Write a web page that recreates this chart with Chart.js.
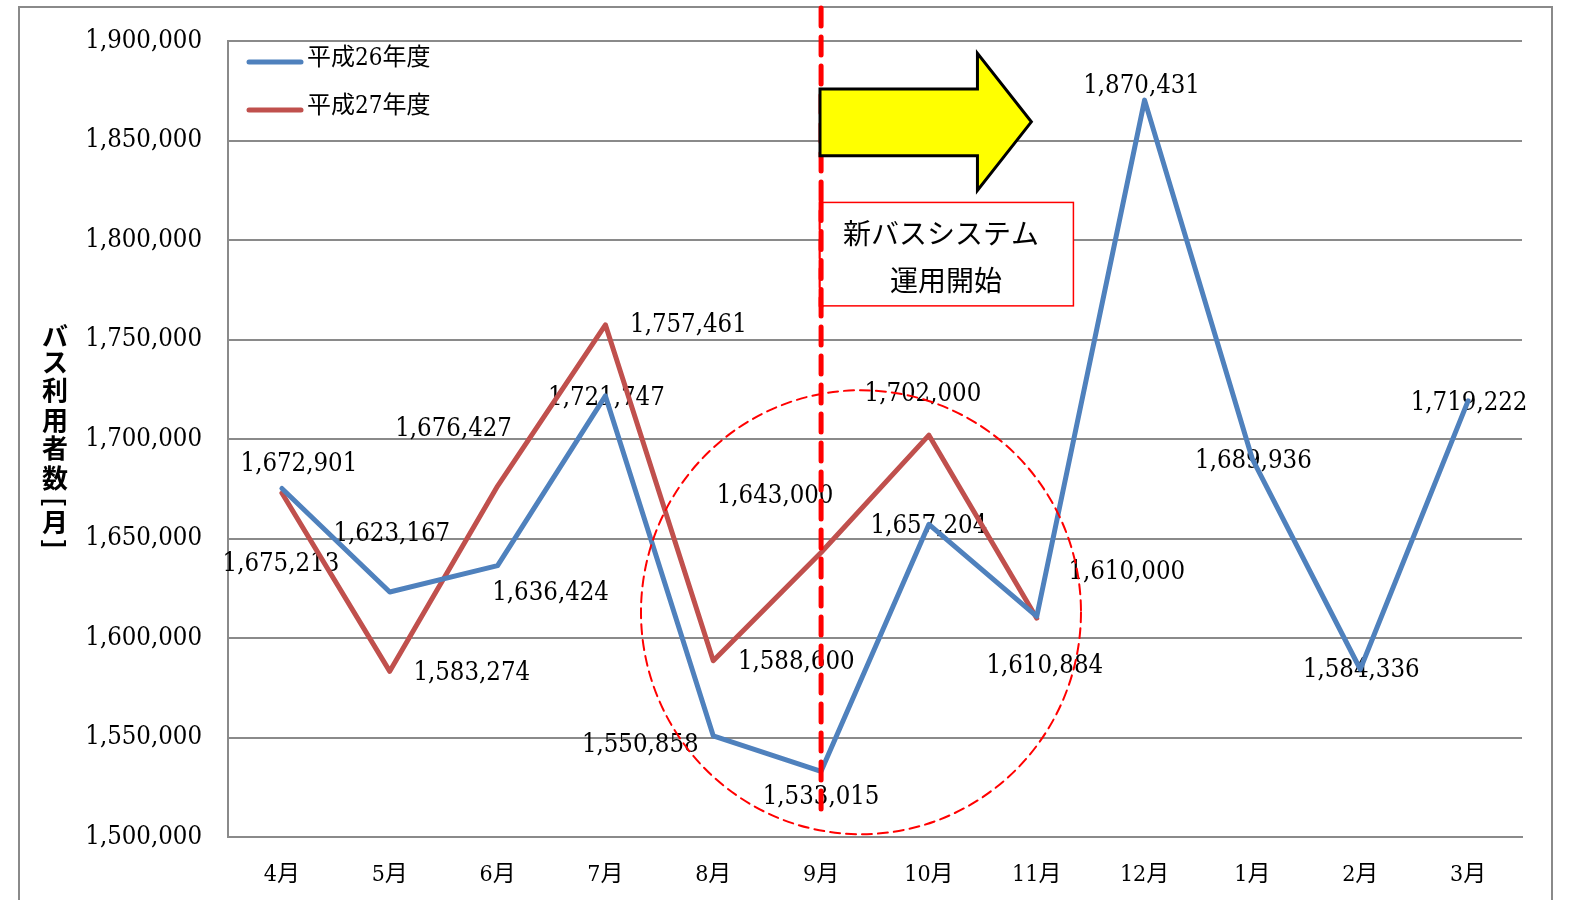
<!DOCTYPE html>
<html lang="ja">
<head>
<meta charset="UTF-8">
<title>バス利用者数</title>
<script src="https://cdn.jsdelivr.net/npm/chart.js"></script>
<style>
  html, body { margin: 0; padding: 0; background: #fff; }
  canvas { display: block; }
</style>
</head>
<body>
<canvas id="busChart" width="1576" height="900"></canvas>
<script>
// data
const months = ['4月', '5月', '6月', '7月', '8月', '9月', '10月', '11月', '12月', '1月', '2月', '3月'];
const seriesNames = ['平成26年度', '平成27年度'];
const h26 = [1675213, 1623167, 1636424, 1721747, 1550858, 1533015, 1657204, 1610884, 1870431, 1689936, 1584336, 1719222];
const h27 = [1672901, 1583274, 1676427, 1757461, 1588600, 1643000, 1702000, 1610000, null, null, null, null];
const yMin = 1500000, yMax = 1900000, yStep = 50000;
const axisTitle = ['バ', 'ス', '利', '用', '者', '数', '[', '月', ']'];
const noteLines = ['新バスシステム', '運用開始'];

// where each value label sits relative to its point (px)
const labelShift26 = [[-1, 76], [2, -58], [53, 28], [1, 2], [-73, 10], [0, 26], [0, 2], [8, 50], [-3, -14], [1, 2], [1, 1], [1, 2]];
const labelShift27 = [[17, -29], [82, 2], [-44, -57], [83, 1], [83, 2], [-46, -56], [-6, -41], [90, -46]];

const GOTHIC = "'Noto Sans CJK JP', sans-serif";
const GRID = '#8a8a8a';
const fmt = v => v.toLocaleString('en-US');

// pick a serif for the numbers: condensed DejaVu if present, sized so "1,900,000" is ~116px wide
const probe = document.createElement('canvas').getContext('2d');
function widthOf(family) { probe.font = '100px ' + family; return probe.measureText('1,900,000').width; }
const condensed = widthOf("'DejaVu Serif Condensed', monospace") !== widthOf('monospace');
const NUMFACE = condensed ? "'DejaVu Serif Condensed'" : "'DejaVu Serif'";
const SERIF = NUMFACE + ", 'Noto Sans CJK JP', serif";
const NUMSIZE = Math.round(11600 / widthOf(NUMFACE + ', serif') * 2) / 2;

const frame = {
  id: 'frame',
  beforeDraw(chart) {
    const c = chart.ctx;
    c.save();
    c.fillStyle = '#fff';
    c.fillRect(0, 0, chart.width, chart.height);
    c.strokeStyle = GRID;
    c.lineWidth = 2;
    c.strokeRect(19, 7, 1533, 910);
    c.restore();
  }
};

const valueLabels = {
  id: 'valueLabels',
  beforeDatasetsDraw(chart) {
    const c = chart.ctx;
    const shifts = [labelShift26, labelShift27];
    c.save();
    c.font = NUMSIZE + 'px ' + SERIF;
    c.fillStyle = '#000';
    c.textAlign = 'center';
    c.textBaseline = 'middle';
    chart.data.datasets.forEach((ds, d) => {
      chart.getDatasetMeta(d).data.forEach((pt, i) => {
        const v = ds.data[i];
        if (v == null) return;
        const s = shifts[d][i];
        c.fillText(fmt(v), pt.x + s[0], pt.y + s[1]);
      });
    });
    c.restore();
  }
};

const overlay = {
  id: 'overlay',
  afterDraw(chart) {
    const c = chart.ctx;
    const xs = chart.scales.x, ys = chart.scales.y;
    const px = i => xs.getPixelForValue(0) + i * (xs.getPixelForValue(1) - xs.getPixelForValue(0));
    const py = v => ys.getPixelForValue(v);
    c.save();

    // legend
    chart.data.datasets.forEach((ds, d) => {
      const y = 62 + d * 48;
      c.strokeStyle = ds.borderColor;
      c.lineWidth = 5;
      c.lineCap = 'round';
      c.beginPath();
      c.moveTo(249, y);
      c.lineTo(301, y);
      c.stroke();
      c.fillStyle = '#000';
      c.font = '24px ' + SERIF;
      c.textAlign = 'left';
      c.textBaseline = 'middle';
      c.fillText(ds.label, 307, y - 3);
    });

    // y axis title, stacked upright
    const ty = [336, 362, 390, 420, 448, 478, 502, 522, 544];
    c.font = 'bold 26px ' + GOTHIC;
    c.fillStyle = '#000';
    c.textAlign = 'center';
    c.textBaseline = 'middle';
    axisTitle.forEach((ch, k) => {
      if (ch === '[' || ch === ']') {
        c.save();
        c.translate(55, ty[k]);
        c.rotate(Math.PI / 2);
        c.fillText(ch, 0, 0);
        c.restore();
      } else {
        c.fillText(ch, 55, ty[k]);
      }
    });

    // dashed circle
    c.strokeStyle = '#ff0000';
    c.lineWidth = 2;
    c.setLineDash([10, 6]);
    c.beginPath();
    c.ellipse(px(5.37), py(1613000), 220, 222, 0, 0, Math.PI * 2);
    c.stroke();

    // start marker line at 9月
    c.lineWidth = 5;
    c.setLineDash([18, 11]);
    c.beginPath();
    c.moveTo(px(5), 8);
    c.lineTo(px(5), py(1512000));
    c.stroke();
    c.setLineDash([]);

    // arrow
    c.beginPath();
    c.moveTo(px(4.99), py(1876000));
    c.lineTo(px(6.45), py(1876000));
    c.lineTo(px(6.45), py(1894000));
    c.lineTo(px(6.95), py(1859500));
    c.lineTo(px(6.45), py(1825000));
    c.lineTo(px(6.45), py(1842500));
    c.lineTo(px(4.99), py(1842500));
    c.closePath();
    c.fillStyle = '#ffff00';
    c.fill();
    c.strokeStyle = '#000';
    c.lineWidth = 3;
    c.lineJoin = 'miter';
    c.stroke();

    // note box
    const bx0 = px(4.99), bx1 = px(7.34), by0 = py(1819000), by1 = py(1767000);
    c.fillStyle = '#fff';
    c.fillRect(bx0, by0, bx1 - bx0, by1 - by0);
    c.strokeStyle = '#ff0000';
    c.lineWidth = 1.5;
    c.strokeRect(bx0, by0, bx1 - bx0, by1 - by0);
    c.fillStyle = '#000';
    c.font = '28px ' + GOTHIC;
    c.textAlign = 'center';
    c.textBaseline = 'middle';
    c.fillText(noteLines[0], 941, by0 + 31);
    c.fillText(noteLines[1], 946, by0 + 78);
    // dashed line passes over the box edge
    c.strokeStyle = '#ff0000';
    c.lineWidth = 5;
    c.setLineDash([18, 11]);
    c.beginPath();
    c.moveTo(px(5), by0);
    c.lineTo(px(5), by1);
    c.stroke();

    c.restore();
  }
};

new Chart(document.getElementById('busChart'), {
  type: 'line',
  data: {
    labels: months,
    datasets: [
      { label: seriesNames[0], data: h26, borderColor: '#4F81BD', backgroundColor: '#4F81BD' },
      { label: seriesNames[1], data: h27, borderColor: '#C0504D', backgroundColor: '#C0504D' }
    ]
  },
  options: {
    responsive: false,
    animation: false,
    layout: { padding: { top: 37, right: 54, bottom: 0, left: 0 } },
    elements: {
      line: { borderWidth: 5, tension: 0, borderCapStyle: 'round', borderJoinStyle: 'round' },
      point: { radius: 0, hoverRadius: 0 }
    },
    plugins: { legend: { display: false }, tooltip: { enabled: false } },
    scales: {
      x: {
        offset: true,
        grid: { display: false, drawTicks: false },
        border: { display: true, color: GRID, width: 2 },
        ticks: { font: { family: SERIF, size: 23 }, color: '#000', padding: 24, autoSkip: false, maxRotation: 0 },
        afterFit: s => { s.height = 63; }
      },
      y: {
        min: yMin,
        max: yMax,
        ticks: { stepSize: yStep, font: { family: SERIF, size: NUMSIZE }, color: '#000', padding: 26, callback: v => fmt(v) },
        grid: { color: GRID, lineWidth: 2, drawTicks: false },
        border: { display: true, color: GRID, width: 2 },
        afterFit: s => { s.width = 228; }
      }
    }
  },
  plugins: [frame, valueLabels, overlay]
});
</script>
</body>
</html>
